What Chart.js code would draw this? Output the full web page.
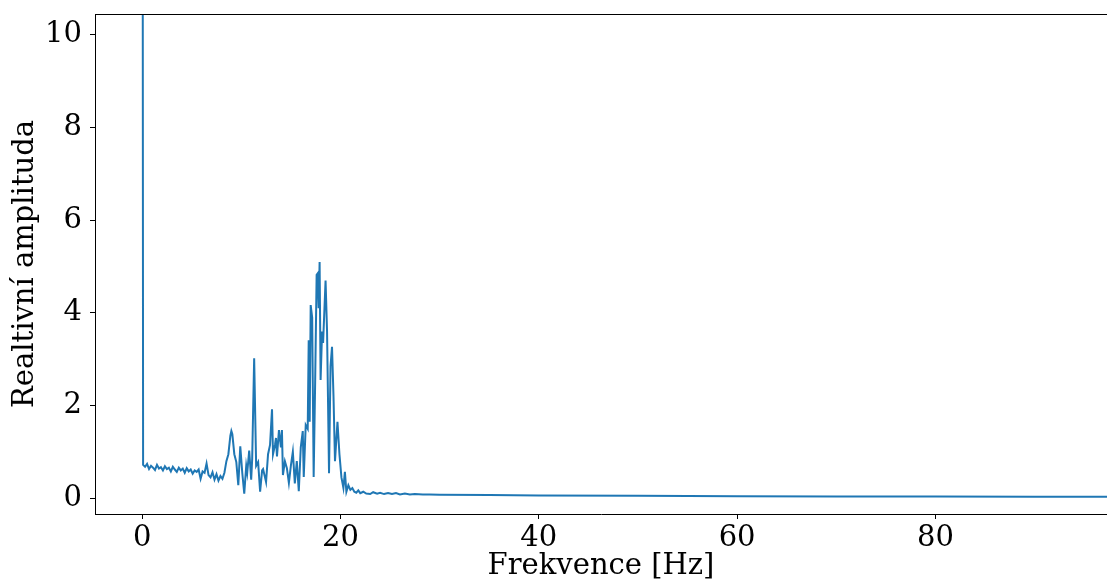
<!DOCTYPE html>
<html>
<head>
<meta charset="utf-8">
<script src="https://cdn.jsdelivr.net/npm/chart.js@4.4.0/dist/chart.umd.min.js"></script>
<style>
  html, body { margin: 0; padding: 0; background: #fff; }
  #wrap { width: 1107px; height: 581px; }
</style>
</head>
<body>
<div id="wrap"><canvas id="spec" width="1107" height="581"></canvas></div>
<script>
// frequency [Hz] and relative amplitude
const freq = [
  0, 0.1, 0.3, 0.5, 0.7, 0.9, 1.1, 1.3, 1.5, 1.7, 1.9, 2.1, 2.3, 2.5, 2.7, 2.9,
  3.1, 3.3, 3.5, 3.7, 3.9, 4.1, 4.3, 4.5, 4.7, 4.9, 5.1, 5.3, 5.5, 5.7, 5.9,
  6.1, 6.3, 6.5, 6.7, 6.9, 7.1, 7.3, 7.5, 7.7, 7.9, 8.1, 8.3, 8.5, 8.7, 8.9,
  9.0, 9.1, 9.3, 9.5, 9.7, 9.9, 10.1, 10.3, 10.5, 10.6, 10.8, 11.0, 11.1, 11.3,
  11.5, 11.7, 11.9, 12.1, 12.2, 12.5, 12.7, 12.9, 13.1, 13.2, 13.4, 13.5, 13.6,
  13.8, 14.0, 14.1, 14.2, 14.4, 14.6, 14.8, 15.0, 15.2, 15.4, 15.6, 15.8, 16.0,
  16.2, 16.3, 16.5, 16.7, 16.8, 16.9, 17.0, 17.15, 17.3, 17.45, 17.6, 17.7, 17.8,
  17.9, 18.0, 18.15, 18.25, 18.5, 18.65, 18.85, 19.0, 19.15, 19.3, 19.45, 19.7,
  19.9, 20.1, 20.3, 20.45, 20.6, 20.8, 21.0, 21.2, 21.4, 21.6, 21.8, 22.0, 22.3,
  22.6, 23.0, 23.3, 23.7, 24.0, 24.4, 24.8, 25.2, 25.6, 26.0, 26.5, 27.0, 27.5,
  28.3, 29, 30, 35, 40, 50, 60, 70, 80, 90, 97.5
];
const amp = [
  30, 0.72, 0.68, 0.74, 0.63, 0.70, 0.66, 0.61, 0.72, 0.64, 0.67, 0.60, 0.69, 0.63, 0.66, 0.58,
  0.68, 0.62, 0.57, 0.66, 0.60, 0.64, 0.55, 0.65, 0.58, 0.62, 0.53, 0.60, 0.57, 0.62, 0.42,
  0.58, 0.55, 0.75, 0.50, 0.45, 0.56, 0.40, 0.52, 0.38, 0.48, 0.42, 0.55, 0.80, 0.95, 1.35,
  1.45, 1.38, 0.95, 0.78, 0.28, 1.12, 0.55, 0.10, 0.70, 0.55, 1.03, 0.40, 0.85, 3.02,
  0.70, 0.78, 0.14, 0.60, 0.63, 0.35, 0.95, 1.15, 1.92, 0.95, 1.15, 1.30, 0.90,
  1.47, 1.10, 1.47, 0.50, 0.80, 0.65, 0.33, 0.70, 1.00, 0.32, 0.80, 0.15, 1.10,
  1.45, 0.46, 1.58, 1.50, 3.41, 1.65, 4.17, 3.90, 0.46, 2.50, 4.82, 4.85, 4.10,
  5.10, 2.55, 3.60, 3.35, 4.70, 3.60, 0.54, 2.85, 3.27, 2.20, 0.80, 1.65,
  0.95, 0.45, 0.22, 0.57, 0.14, 0.28, 0.18, 0.22, 0.14, 0.12, 0.17, 0.11, 0.14,
  0.10, 0.09, 0.13, 0.10, 0.12, 0.09, 0.11, 0.09, 0.11, 0.08, 0.10, 0.08, 0.09,
  0.08, 0.08, 0.075, 0.068, 0.06, 0.052, 0.045, 0.04, 0.036, 0.032, 0.03
];
const xTicks = [0, 20, 40, 60, 80];
const yTicks = [0, 2, 4, 6, 8, 10];

const font = { family: 'DejaVu Serif', size: 29 };
const titleFont = { family: 'DejaVu Serif', size: 29, lineHeight: 1 };

// top spine like matplotlib
const frame = {
  id: 'frame',
  afterDraw(chart) {
    const { ctx, chartArea: a } = chart;
    ctx.save();
    ctx.strokeStyle = '#000';
    ctx.lineWidth = 1;
    ctx.beginPath();
    ctx.moveTo(a.left, a.top + 0.5);
    ctx.lineTo(a.right, a.top + 0.5);
    ctx.stroke();
    ctx.restore();
  }
};

new Chart(document.getElementById('spec'), {
  type: 'scatter',
  data: {
    datasets: [{
      data: freq.map((f, i) => ({ x: f, y: amp[i] })),
      showLine: true,
      borderColor: '#1f77b4',
      borderWidth: 2,
      pointRadius: 0,
      tension: 0
    }]
  },
  options: {
    responsive: false,
    animation: false,
    layout: { padding: { top: 14, right: 0, left: 0, bottom: 0 } },
    plugins: { legend: { display: false }, tooltip: { enabled: false } },
    scales: {
      x: {
        type: 'linear',
        min: -4.75,
        max: 97.3,
        afterFit(scale) {
          scale.height = 67;
          scale.paddingLeft = 0;
          scale.paddingRight = 0;
        },
        afterBuildTicks(scale) { scale.ticks = xTicks.map(v => ({ value: v })); },
        grid: { drawOnChartArea: false, drawTicks: true, tickLength: 5, color: '#000' },
        border: { display: true, color: '#000', width: 1 },
        ticks: { color: '#000', font: font, padding: 2, maxRotation: 0 },
        title: { display: true, text: 'Frekvence [Hz]', color: '#000', font: titleFont, padding: { top: 0, bottom: 0 } }
      },
      y: {
        min: -0.34,
        max: 10.45,
        afterFit(scale) {
          scale.width = 95;
          scale.paddingTop = 0;
          scale.paddingBottom = 0;
        },
        afterBuildTicks(scale) { scale.ticks = yTicks.map(v => ({ value: v })); },
        grid: { drawOnChartArea: false, drawTicks: true, tickLength: 5, color: '#000' },
        border: { display: true, color: '#000', width: 1 },
        ticks: { color: '#000', font: font, padding: 8 },
        title: { display: true, text: 'Realtivní amplituda', color: '#000', font: font, padding: { top: 8, bottom: 0 } }
      }
    }
  },
  plugins: [frame]
});
</script>
</body>
</html>
